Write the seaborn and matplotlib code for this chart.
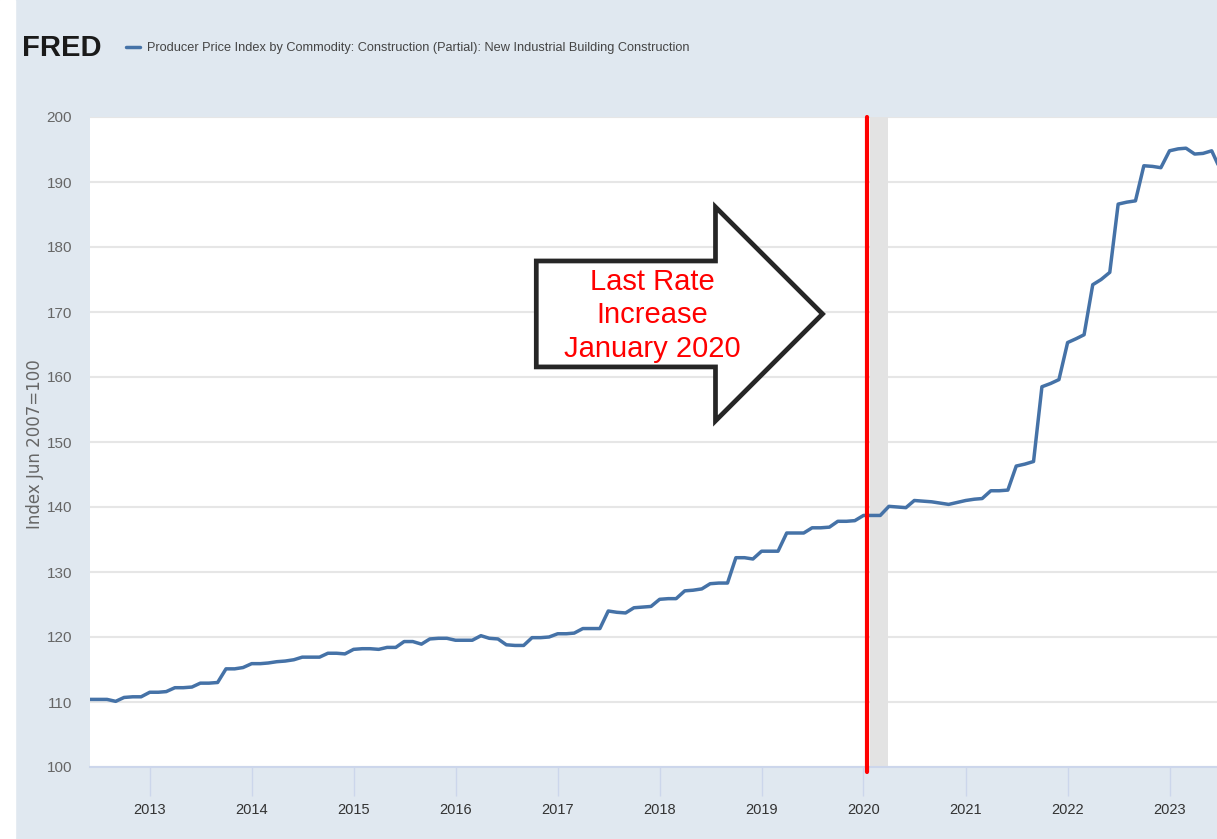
import pandas as pd
import matplotlib.pyplot as plt
import matplotlib.dates as mdates
from matplotlib.patches import FancyArrow, Rectangle
from matplotlib.lines import Line2D
import seaborn as sns

# monthly index values, Jun 2012 .. Jul 2023
first_month = '2012-06-01'
ppi_values = [
    110.4, 110.4, 110.4, 110.1, 110.7, 110.8, 110.8,
    111.5, 111.5, 111.6, 112.2, 112.2, 112.3, 112.9, 112.9, 113.0, 115.1, 115.1, 115.3,
    115.9, 115.9, 116.0, 116.2, 116.3, 116.5, 116.9, 116.9, 116.9, 117.5, 117.5, 117.4,
    118.1, 118.2, 118.2, 118.1, 118.4, 118.4, 119.3, 119.3, 118.9, 119.7, 119.8, 119.8,
    119.5, 119.5, 119.5, 120.2, 119.8, 119.7, 118.8, 118.7, 118.7, 119.9, 119.9, 120.0,
    120.5, 120.5, 120.6, 121.3, 121.3, 121.3, 124.0, 123.8, 123.7, 124.5, 124.6, 124.7,
    125.8, 125.9, 125.9, 127.1, 127.2, 127.4, 128.2, 128.3, 128.3, 132.2, 132.2, 132.0,
    133.2, 133.2, 133.2, 136.0, 136.0, 136.0, 136.8, 136.8, 136.9, 137.8, 137.8, 137.9,
    138.7, 138.7, 138.7, 140.1, 140.0, 139.9, 141.0, 140.9, 140.8, 140.6, 140.4, 140.7,
    141.0, 141.2, 141.3, 142.5, 142.5, 142.6, 146.3, 146.6, 147.0, 158.5, 159.0, 159.6,
    165.3, 165.9, 166.5, 174.2, 175.0, 176.1, 186.6, 186.9, 187.1, 192.5, 192.4, 192.2,
    194.8, 195.1, 195.2, 194.3, 194.4, 194.8, 192.0,
]
recession_start = '2020-01-24'
recession_end = '2020-03-28'
rate_increase_date = '2020-01-14'
x_limits = ['2012-06-01', '2023-06-20']
y_ticks = list(range(100, 201, 10))

title_text = ('Producer Price Index by Commodity: Construction (Partial): '
              'New Industrial Building Construction')
y_label = 'Index Jun 2007=100'
note_text = 'Last Rate\nIncrease\nJanuary 2020'

df = pd.DataFrame({
    'date': pd.date_range(first_month, periods=len(ppi_values), freq='MS'),
    'value': ppi_values,
})

sns.set_theme(style='white')
plt.rcParams['font.family'] = ['Liberation Sans', 'DejaVu Sans']

bg = '#e0e8f0'
fig = plt.figure(figsize=(12.17, 8.39), dpi=100, facecolor=bg)
fig.add_artist(Rectangle((0, 0), 15 / 1217, 1, transform=fig.transFigure,
                         color='white', zorder=-5))
ax = fig.add_axes([90 / 1217, 72 / 839, 1127 / 1217, 650 / 839])
ax.set_facecolor('white')

sns.lineplot(data=df, x='date', y='value', ax=ax, color='#4572a7', lw=2.5, zorder=2)

ax.axvspan(pd.Timestamp(recession_start), pd.Timestamp(recession_end),
           color='#e3e3e3', lw=0, zorder=1)
ax.axvline(pd.Timestamp(rate_increase_date), ymin=-0.008, ymax=1, color='#ff0000',
           lw=3, clip_on=False, zorder=4)

ax.set_xlim(pd.Timestamp(x_limits[0]), pd.Timestamp(x_limits[1]))
ax.set_ylim(100, 200)
ax.set_yticks(y_ticks)
ax.xaxis.set_major_locator(mdates.YearLocator())
ax.xaxis.set_major_formatter(mdates.DateFormatter('%Y'))
ax.set_xlabel('')
ax.set_ylabel('')

ax.yaxis.grid(True, color='#e6e6e6', lw=1.5)
ax.xaxis.grid(False)
ax.set_axisbelow(True)
for side in ['left', 'top', 'right']:
    ax.spines[side].set_visible(False)
ax.spines['bottom'].set_color('#ccd6eb')
ax.spines['bottom'].set_linewidth(1.5)
ax.tick_params(axis='x', length=21, width=1, color='#ccd6eb', labelcolor='#333333',
               labelsize=10.5, pad=5, bottom=True)
ax.tick_params(axis='y', length=0, pad=13, labelcolor='#666666', labelsize=11)

# block arrow with the note
arrow = FancyArrow(0.396, 0.697, 0.254, 0, width=0.163, head_width=0.329,
                   head_length=0.095, length_includes_head=True, transform=ax.transAxes,
                   facecolor='white', edgecolor='#262626', lw=3.4, joinstyle='miter',
                   zorder=5)
ax.add_patch(arrow)
ax.text(0.499, 0.695, note_text, transform=ax.transAxes, ha='center', va='center',
        color='#ff0000', fontsize=21, linespacing=1.25, zorder=6)

# header
fig.text(22 / 1217, 1 - 48 / 839, 'FRED', fontsize=21, weight='bold', color='#1a1a1a',
         va='center', ha='left')
fig.add_artist(Line2D([126 / 1217, 140 / 1217], [1 - 47 / 839] * 2,
                      transform=fig.transFigure, color='#4572a7', lw=2.5))
fig.text(147 / 1217, 1 - 48 / 839, title_text, fontsize=9.2, color='#444444',
         va='center', ha='left')

fig.text(35 / 1217, 1 - 444 / 839, y_label, rotation=90, ha='center', va='center',
         color='#666666', fontsize=12, family=['DejaVu Sans'])

fig.savefig('out.png', dpi=100, facecolor=fig.get_facecolor())
